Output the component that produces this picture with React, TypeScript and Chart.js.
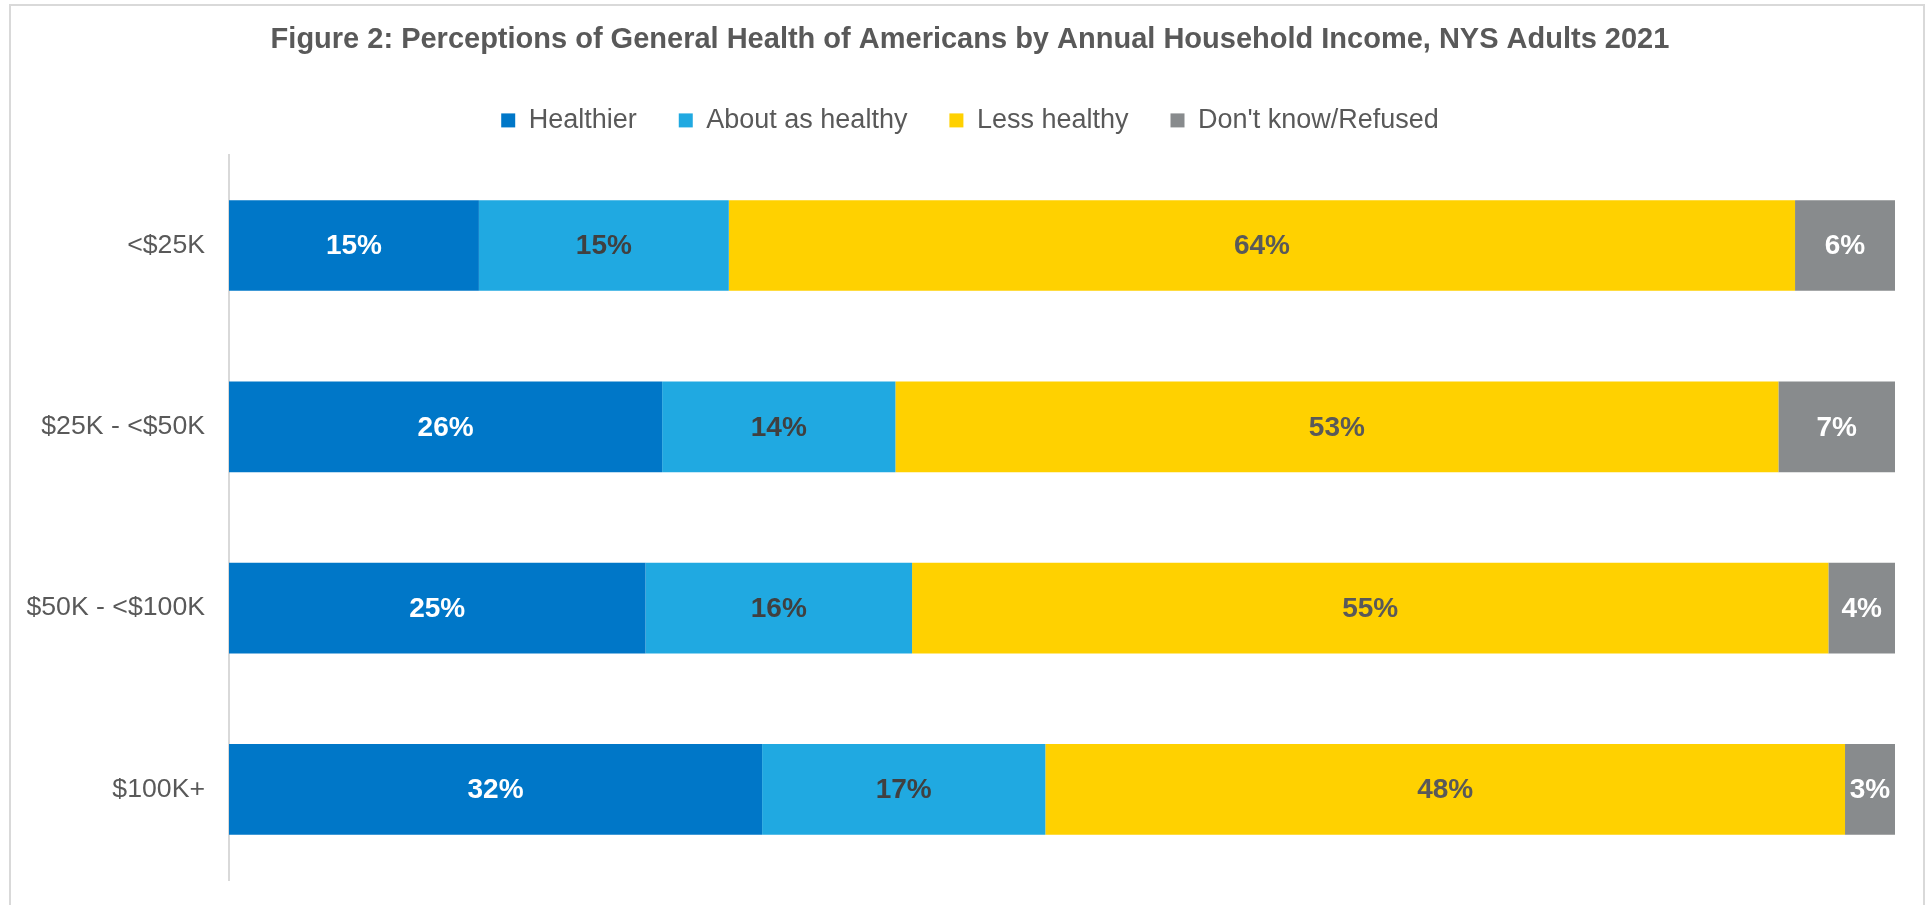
import React, { useEffect, useRef } from "react";
import { Chart, registerables } from "chart.js";

Chart.register(...registerables);

const categories = ["<$25K", "$25K - <$50K", "$50K - <$100K", "$100K+"];
const seriesNames = ["Healthier", "About as healthy", "Less healthy", "Don't know/Refused"];
const healthier = [15, 26, 25, 32];
const aboutAsHealthy = [15, 14, 16, 17];
const lessHealthy = [64, 53, 55, 48];
const dontKnow = [6, 7, 4, 3];
const seriesColors = ["#0077C8", "#20A9E1", "#FFD100", "#888B8D"];
const labelColors = ["#FFFFFF", "#404040", "#595959", "#FFFFFF"];
const titleText = "Figure 2: Perceptions of General Health of Americans by Annual Household Income, NYS Adults 2021";

const FONT = "'Liberation Sans', Arial, sans-serif";

const valueLabels = {
  id: "valueLabels",
  afterDatasetsDraw(chart: any) {
    const ctx = chart.ctx;
    ctx.save();
    ctx.font = `bold 28px ${FONT}`;
    ctx.textAlign = "center";
    ctx.textBaseline = "middle";
    chart.data.datasets.forEach((ds: any, di: number) => {
      const meta = chart.getDatasetMeta(di);
      meta.data.forEach((bar: any, i: number) => {
        const v = ds.data[i];
        const x = (bar.x + bar.base) / 2;
        ctx.fillStyle = labelColors[di];
        ctx.fillText(`${v}%`, x, bar.y + 1);
      });
    });
    ctx.restore();
  },
};

export default function App() {
  const ref = useRef<HTMLCanvasElement | null>(null);
  useEffect(() => {
    document.body.style.margin = "0";
    const canvas = ref.current!;
    const allData = [healthier, aboutAsHealthy, lessHealthy, dontKnow];
    const chart = new Chart(canvas, {
      type: "bar",
      data: {
        labels: categories,
        datasets: seriesNames.map((name, i) => ({
          label: name,
          data: allData[i],
          backgroundColor: seriesColors[i],
          borderWidth: 0,
          categoryPercentage: 1,
          barPercentage: 0.5,
        })),
      },
      options: {
        indexAxis: "y",
        responsive: false,
        animation: false,
        layout: { padding: { top: 0, right: 0, bottom: 25, left: 11 } },
        plugins: {
          title: {
            display: true,
            text: titleText,
            color: "#595959",
            font: { family: FONT, size: 29, weight: "bold" },
            padding: { top: 22.6, bottom: 7.5 },
          },
          legend: {
            display: true,
            position: "top",
            labels: {
              boxWidth: 14,
              boxHeight: 14,
              padding: 42,
              color: "#595959",
              font: { family: FONT, size: 27 },
            },
          },
          tooltip: { enabled: false },
        },
        scales: {
          x: {
            stacked: true,
            min: 0,
            max: 100,
            position: "top",
            display: true,
            grid: { display: false, drawTicks: false },
            border: { display: false },
            ticks: { display: false },
            afterFit: (scale: any) => {
              scale.height = 11;
              scale.paddingLeft = 0;
              scale.paddingRight = 0;
            },
          },
          y: {
            stacked: true,
            grid: { display: false, drawTicks: false },
            border: { display: true, color: "#D9D9D9", width: 2 },
            ticks: {
              color: "#595959",
              padding: 24,
              font: { family: FONT, size: 26.67 },
            },
            afterFit: (scale: any) => {
              scale.width = 218;
              scale.paddingTop = 0;
              scale.paddingBottom = 0;
            },
          },
          yRight: {
            type: "category",
            position: "right",
            display: true,
            grid: { display: false, drawTicks: false },
            border: { display: false },
            ticks: { display: false },
            afterFit: (scale: any) => {
              scale.width = 34;
              scale.paddingTop = 0;
              scale.paddingBottom = 0;
            },
          },
        },
      },
      plugins: [valueLabels],
    } as any);
    return () => chart.destroy();
  }, []);

  return (
    <div style={{ position: "relative", width: 1929, height: 905, overflow: "hidden", background: "#fff" }}>
      <canvas ref={ref} width={1929} height={905} style={{ position: "absolute", left: 0, top: 0 }} />
      <div
        style={{
          position: "absolute",
          left: 9,
          top: 4,
          width: 1912,
          height: 940,
          border: "2px solid #D9D9D9",
          pointerEvents: "none",
        }}
      />
    </div>
  );
}
